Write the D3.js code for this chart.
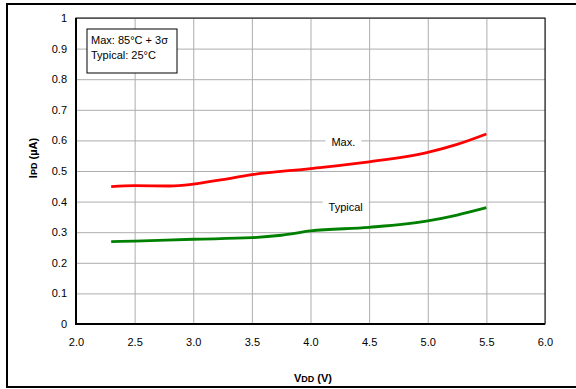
<!DOCTYPE html>
<html>
<head>
<meta charset="utf-8">
<script src="https://cdn.jsdelivr.net/npm/d3@7"></script>
<style>
  body { margin: 0; background: #fff; }
  text { font-family: "Liberation Sans", Arial, sans-serif; fill: #000; }
</style>
</head>
<body>
<div class="chart"></div>
<script>
// data
var maxV = [2.3, 2.5, 2.8, 3.0, 3.25, 3.5, 4.0, 4.5, 5.0, 5.25, 5.5];
var maxI = [0.449, 0.452, 0.451, 0.457, 0.472, 0.488, 0.508, 0.530, 0.561, 0.587, 0.621];
var typV = [2.3, 2.5, 3.0, 3.5, 3.75, 4.0, 4.5, 5.0, 5.25, 5.5];
var typI = [0.269, 0.271, 0.277, 0.282, 0.290, 0.304, 0.316, 0.337, 0.356, 0.380];
var xTicks = [2.0, 2.5, 3.0, 3.5, 4.0, 4.5, 5.0, 5.5, 6.0];
var yTicks = [0, 0.1, 0.2, 0.3, 0.4, 0.5, 0.6, 0.7, 0.8, 0.9, 1];

var svgWidth = 576;
var svgHeight = 389;
var margin = { top: 18, right: 31, bottom: 65, left: 76 };
var width = svgWidth - margin.left - margin.right;
var height = svgHeight - margin.top - margin.bottom;

var svg = d3.select(".chart")
  .append("svg")
  .attr("width", svgWidth)
  .attr("height", svgHeight);

// outer frame
svg.append("rect")
  .attr("x", 7).attr("y", 4)
  .attr("width", 580).attr("height", 383)
  .attr("fill", "none")
  .attr("stroke", "#000")
  .attr("stroke-width", 2);

var chartGroup = svg.append("g")
  .attr("transform", `translate(${margin.left}, ${margin.top})`);

var x = d3.scaleLinear().domain([2, 6]).range([0, width]);
var y = d3.scaleLinear().domain([0, 1]).range([height, 0]);

// grid
chartGroup.append("g")
  .call(d3.axisBottom(x).tickValues(xTicks).tickSize(-height).tickFormat(""))
  .attr("transform", `translate(0, ${height})`)
  .call(g => g.select(".domain").remove())
  .call(g => g.selectAll("line").attr("stroke", "#adadad"));

chartGroup.append("g")
  .call(d3.axisLeft(y).tickValues(yTicks).tickSize(-width).tickFormat(""))
  .call(g => g.select(".domain").remove())
  .call(g => g.selectAll("line").attr("stroke", "#adadad"));

// plot box
chartGroup.append("rect")
  .attr("width", width).attr("height", height)
  .attr("fill", "none")
  .attr("stroke", "#000")
  .attr("stroke-width", 1);

chartGroup.append("path")
  .attr("d", `M0,0V${height}H${width}`)
  .attr("fill", "none")
  .attr("stroke", "#000")
  .attr("stroke-width", 2);

// tick labels
var xAxis = chartGroup.append("g")
  .attr("transform", `translate(0, ${height})`)
  .call(d3.axisBottom(x).tickValues(xTicks).tickSize(0).tickPadding(14).tickFormat(d3.format(".1f")));
xAxis.select(".domain").remove();
xAxis.selectAll("text").style("font-size", "11px").attr("font-family", null);

var yAxis = chartGroup.append("g")
  .call(d3.axisLeft(y).tickValues(yTicks).tickSize(0).tickPadding(9).tickFormat(d => d3.format("")(+d.toFixed(1))));
yAxis.select(".domain").remove();
yAxis.selectAll("text").style("font-size", "11px").attr("font-family", null);

// lines
var line = d3.line()
  .x(d => x(d[0]))
  .y(d => y(d[1]))
  .curve(d3.curveMonotoneX);

chartGroup.append("path")
  .datum(maxV.map((v, i) => [v, maxI[i]]))
  .attr("d", line)
  .attr("fill", "none")
  .attr("stroke", "#ff0000")
  .attr("stroke-width", 2.8);

chartGroup.append("path")
  .datum(typV.map((v, i) => [v, typI[i]]))
  .attr("d", line)
  .attr("fill", "none")
  .attr("stroke", "#008000")
  .attr("stroke-width", 2.8);

// series labels with white background
function seriesLabel(cx, cy, txt, w) {
  chartGroup.append("rect")
    .attr("x", cx - w / 2).attr("y", cy - 9)
    .attr("width", w).attr("height", 16)
    .attr("fill", "#fff");
  chartGroup.append("text")
    .attr("x", cx).attr("y", cy + 3)
    .attr("text-anchor", "middle")
    .style("font-size", "11px")
    .text(txt);
}
seriesLabel(x(4.28), y(0.592), "Max.", 36);
seriesLabel(x(4.3), y(0.38), "Typical", 46);

// condition box
chartGroup.append("rect")
  .attr("x", 11).attr("y", 11)
  .attr("width", 90).attr("height", 44)
  .attr("fill", "#fff")
  .attr("stroke", "#000")
  .attr("stroke-width", 1);
chartGroup.append("text")
  .attr("x", 15).attr("y", 26)
  .style("font-size", "11px")
  .text("Max: 85°C + 3σ");
chartGroup.append("text")
  .attr("x", 15).attr("y", 41)
  .style("font-size", "11px")
  .text("Typical: 25°C");

// axis titles
var xt = svg.append("text")
  .attr("x", 313).attr("y", 382)
  .attr("text-anchor", "middle")
  .style("font-size", "11px")
  .style("font-weight", "bold");
xt.append("tspan").text("V");
xt.append("tspan").style("font-size", "9px").text("DD");
xt.append("tspan").text(" (V)");

var yt = svg.append("text")
  .attr("transform", "translate(37, 158) rotate(-90)")
  .attr("text-anchor", "middle")
  .style("font-size", "11px")
  .style("font-weight", "bold");
yt.append("tspan").text("I");
yt.append("tspan").style("font-size", "9px").text("PD");
yt.append("tspan").text(" (µA)");
</script>
</body>
</html>
